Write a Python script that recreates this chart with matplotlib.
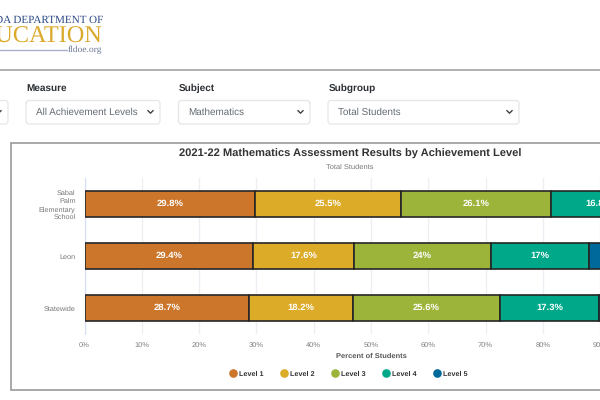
import matplotlib
matplotlib.use('Agg')
import matplotlib.pyplot as plt
from matplotlib.lines import Line2D
from matplotlib.patches import FancyBboxPatch, Rectangle
import numpy as np

plt.rcParams['font.family'] = ['Liberation Sans', 'DejaVu Sans']
plt.rcParams['text.hinting'] = 'none'

schools = ['Sabal\nPalm\nElementary\nSchool', 'Leon', 'Statewide']
levels = ['Level 1', 'Level 2', 'Level 3', 'Level 4', 'Level 5']
level_1 = [29.8, 29.4, 28.7]
level_2 = [25.5, 17.6, 18.2]
level_3 = [26.1, 24, 25.6]
level_4 = [16.8, 17, 17.3]
level_5 = [1.8, 12, 10.2]
colors = ['#CC762C', '#DCAB28', '#9DB43B', '#00A88A', '#00699B']
ticks = [0, 10, 20, 30, 40, 50, 60, 70, 80, 90, 100]

W, H = 600, 400
fig = plt.figure(figsize=(6, 4), dpi=100)

# page furniture, drawn in pixel coords
page = fig.add_axes([0, 0, 1, 1])
page.set_xlim(0, W)
page.set_ylim(H, 0)
page.axis('off')

def dropdown(x0, x1, label, value):
    if label:
        page.text(x0 + 0.5, 88, label, fontsize=7.2, fontweight='bold', color='#2b2f33', va='center')
    page.add_patch(FancyBboxPatch((x0, 100.5), x1 - x0, 23.5, boxstyle='round,pad=0,rounding_size=3',
                                  fc='white', ec='#e3e6ea', lw=0.9))
    if value:
        page.text(x0 + 10, 112, value, fontsize=7.1, color='#646b72', va='center')
    page.plot([x1 - 12, x1 - 9.5, x1 - 7], [110.7, 113.2, 110.7], color='#3c4146', lw=1)

# logo
page.text(103, 20.5, 'FLORIDA DEPARTMENT OF', family='Liberation Serif', fontsize=8.0, color='#2c4a86',
          ha='right', va='center')
page.text(102, 36.5, 'EDUCATION', family='Liberation Serif', fontsize=17.5, color='#dba92c',
          ha='right', va='center')
page.plot([0, 67], [50, 50], color='#a9b2cc', lw=1)
page.text(68, 50, 'fldoe.org', family='Liberation Serif', fontsize=6.8, color='#6c7a94', va='center')

page.plot([0, W], [70, 70], color='#a3a3a3', lw=1.2)
dropdown(-60, 8, None, None)
dropdown(26, 160, 'Measure', 'All Achievement Levels')
dropdown(178.5, 310, 'Subject', 'Mathematics')
dropdown(328, 519, 'Subgroup', 'Total Students')

# chart frame runs off the right edge
page.add_patch(Rectangle((10.5, 143), 700, 247, fc='white', ec='#9a9a9a', lw=1.2))
page.text(350, 154, '2021-22 Mathematics Assessment Results by Achievement Level', fontsize=8.05,
          fontweight='bold', color='#333333', ha='center', va='center')
page.text(350, 167.5, 'Total Students', fontsize=5.4, color='#777777', ha='center', va='center')

# plot area: 100% falls past the right edge of the picture
ax = fig.add_axes([84.5 / W, (H - 334) / H, 573 / W, 156 / H])
ax.patch.set_alpha(0)
y = np.arange(len(schools))
left = np.zeros(len(schools))
series = [level_1, level_2, level_3, level_4, level_5]
for name, values, color in zip(levels, series, colors):
    bars = ax.barh(y, values, left=left, height=0.5, color=color, edgecolor='#262626', linewidth=1.2,
                   label=name, zorder=3)
    labels = ['%g%%' % v for v in values]
    ax.bar_label(bars, labels=labels, label_type='center', color='white', fontsize=6.8,
                 fontweight='bold', zorder=4)
    left += np.array(values)

ax.set_xlim(0, 100)
ax.set_ylim(2.5, -0.5)
ax.set_xticks(ticks)
ax.set_xticklabels(['%d%%' % t for t in ticks])
ax.set_yticks(y)
ax.set_yticklabels(schools, fontsize=5.2, color='#777777', linespacing=1.3)
ax.tick_params(axis='x', length=0, pad=6, labelsize=5.4, labelcolor='#808080')
ax.tick_params(axis='y', length=0, pad=6.5)
ax.grid(axis='x', color='#ebeef3', lw=0.9, zorder=0)
ax.set_axisbelow(True)
for side in ['top', 'right', 'bottom']:
    ax.spines[side].set_visible(False)
ax.spines['left'].set_color('#d5deee')
ax.set_xlabel('Percent of Students', fontsize=5.4, fontweight='bold', color='#555555', labelpad=3)

handles = [Line2D([], [], ls='none', marker='o', ms=5.2, color=c) for c in colors]
fig.legend(handles, levels, loc='center', bbox_to_anchor=(348 / W, (H - 374) / H), ncol=5, frameon=False,
           labelcolor='#333333', handletextpad=0.3, columnspacing=2.15, handlelength=1.2,
           prop={'size': 5.2, 'weight': 'bold'})

fig.savefig('out.png', dpi=100)
